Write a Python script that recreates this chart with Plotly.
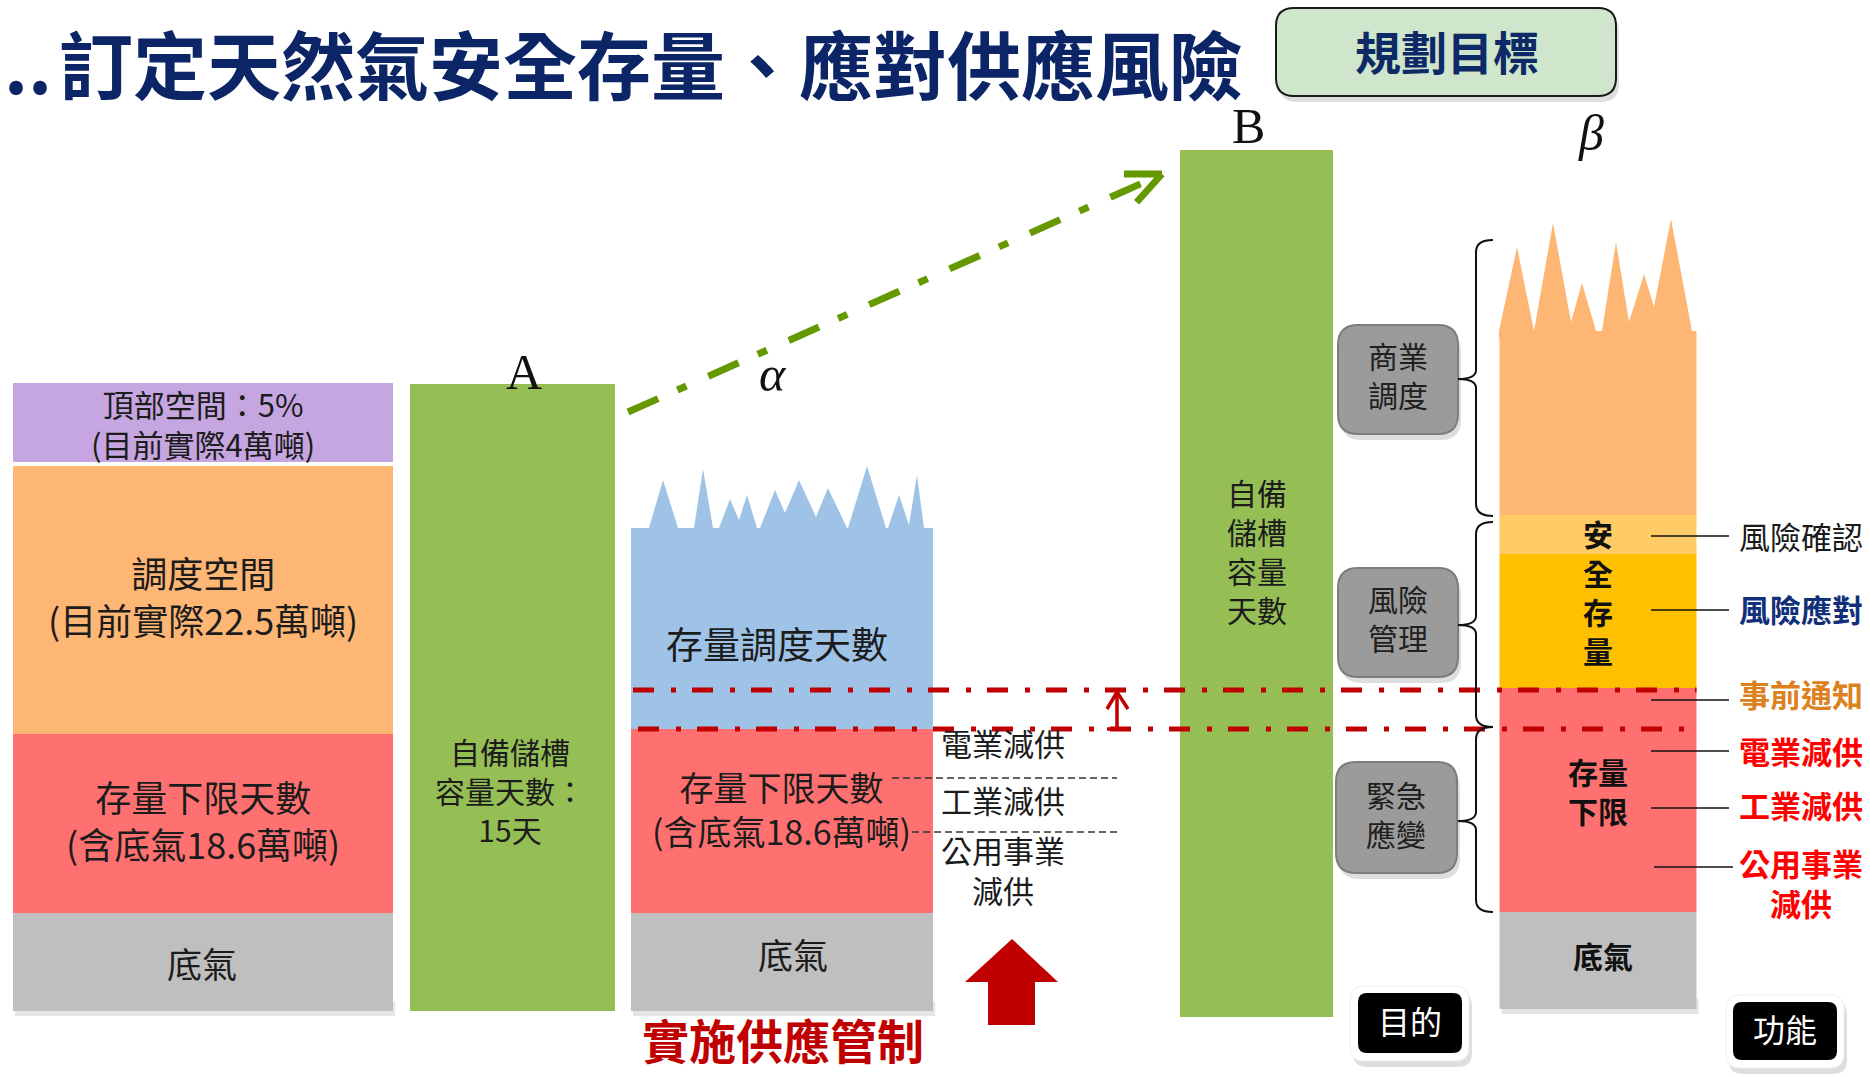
import math
import plotly.graph_objects as go

W, H = 1870, 1077
BASE = 1011          # pixel row of the common baseline -> data y = 0


def Y(p):
    """convert a measured pixel row into the chart's vertical units"""
    return BASE - p


# ---------------------------------------------------------------- data
# left column: present situation (heights above the baseline)
current_segments = ["底氣", "存量下限天數", "調度空間", "頂部空間"]
current_bottom = [0, 98, 277, 549]
current_top = [98, 277, 545, 628]

# column A: own storage-tank capacity
tankA_bottom = [0]
tankA_top = [627]

# column alpha
alpha_segments = ["底氣", "存量下限天數", "存量調度天數"]
alpha_bottom = [0, 98, 282]
alpha_top = [98, 282, 483]
alpha_ridge_x = [631, 649, 663, 678, 694, 703, 713, 719, 730, 739, 747, 757, 760, 775,
                 785, 799, 816, 828, 847, 848, 867, 886, 888, 899, 909, 917, 924, 932]
alpha_ridge_y = [483, 483, 531, 483, 483, 542, 483, 483, 512, 491, 516, 483, 483, 521,
                 498, 531, 494, 523, 483, 483, 545, 483, 483, 516, 486, 536, 483, 483]

# column B: target storage-tank capacity
tankB_bottom = [-6]
tankB_top = [861]

# column beta
beta_segments = ["底氣", "存量下限", "風險應對", "風險確認", "商業調度"]
beta_bottom = [2, 99, 323, 457, 496]
beta_top = [99, 323, 457, 496, 680]
beta_ridge_x = [1499, 1517, 1534, 1553, 1571, 1582, 1596, 1602, 1616, 1629, 1644, 1654, 1671, 1692, 1696]
beta_ridge_y = [680, 764, 680, 788, 689, 728, 680, 680, 769, 689, 737, 704, 792, 680, 680]

# threshold lines: 事前通知 level and 實施供應管制 level
threshold_levels = [321, 282]

# right-hand function labels
func_labels = ["風險確認", "風險應對", "事前通知", "電業減供", "工業減供"]
func_colors = ["#1a1a1a", "#12307a", "#dd8020", "#ff0000", "#ff0000"]
func_bold = [False, True, True, True, True]
func_rows = [538, 611, 696, 753, 807]
func_lines = [536, 610, 700, 751, 808, 867]

# alpha side labels
cut_labels = ["電業減供", "工業減供"]
cut_rows = [745, 802]

# ---------------------------------------------------------------- style
CJK = "Noto Sans CJK TC, Noto Sans CJK SC, sans-serif"
SERIF = "Liberation Serif, DejaVu Serif, serif"
TXT = "#1c1c1c"
GRAY = "#bfbfbf"
RED = "#ff7170"
ORANGE = "#fdb674"
PURPLE = "#c6a6e1"
GREEN = "#95bf55"
BLUE = "#9fc3e7"
LYELLOW = "#ffcb66"
YELLOW = "#ffc000"
DARKRED = "#c00000"
ARROWGREEN = "#669900"

col_center = {"cur": 203, "A": 512.5, "alpha": 782, "B": 1256.5, "beta": 1598}
col_width = {"cur": 380, "A": 205, "alpha": 302, "B": 153, "beta": 197}

fig = go.Figure()


def add_bar(cx, w, b, t, color):
    fig.add_trace(go.Bar(x=[cx], y=[t - b], base=[b], width=[w],
                         marker=dict(color=color, line=dict(width=0)),
                         hoverinfo="skip", showlegend=False))


# soft shadows under grey bases
for key, b in (("cur", current_bottom[0]), ("alpha", alpha_bottom[0]), ("beta", beta_bottom[0])):
    add_bar(col_center[key] + 2, col_width[key], b - 5, b + 10, "rgba(0,0,0,0.10)")

for b, t, c in zip(current_bottom, current_top, [GRAY, RED, ORANGE, PURPLE]):
    add_bar(col_center["cur"], col_width["cur"], b, t, c)
for b, t in zip(tankA_bottom, tankA_top):
    add_bar(col_center["A"], col_width["A"], b, t, GREEN)
for b, t, c in zip(alpha_bottom, alpha_top, [GRAY, RED, BLUE]):
    add_bar(col_center["alpha"], col_width["alpha"], b, t, c)
for b, t in zip(tankB_bottom, tankB_top):
    add_bar(col_center["B"], col_width["B"], b, t, GREEN)
for b, t, c in zip(beta_bottom, beta_top, [GRAY, RED, YELLOW, LYELLOW, ORANGE]):
    add_bar(col_center["beta"], col_width["beta"], b, t, c)


def add_ridge(xs, ys, color):
    px = list(xs) + [xs[-1], xs[0]]
    py = list(ys) + [ys[-1] - 8, ys[0] - 8]
    fig.add_trace(go.Scatter(x=px, y=py, mode="lines", fill="toself", fillcolor=color,
                             line=dict(width=0, color=color), hoverinfo="skip", showlegend=False))


add_ridge(alpha_ridge_x, alpha_ridge_y, BLUE)
add_ridge(beta_ridge_x, beta_ridge_y, ORANGE)


def add_line(xs, ys, color, width, dash="solid"):
    fig.add_trace(go.Scatter(x=xs, y=ys, mode="lines", line=dict(color=color, width=width, dash=dash),
                             hoverinfo="skip", showlegend=False))


# red dash-dot threshold lines
alpha_left = col_center["alpha"] - col_width["alpha"] / 2
beta_right = col_center["beta"] + col_width["beta"] / 2
add_line([alpha_left + 2, beta_right], [threshold_levels[0]] * 2, DARKRED, 5, "21px,17px,5px,16px")
add_line([alpha_left + 7, beta_right], [threshold_levels[1]] * 2, DARKRED, 5, "21px,17px,5px,16px")

# small red up-arrow between the two levels
ax = 1117
add_line([ax, ax], [threshold_levels[1], threshold_levels[0] - 2], DARKRED, 3.5)
add_line([ax - 10, ax, ax + 11], [threshold_levels[0] - 19, threshold_levels[0] - 2, threshold_levels[0] - 19], DARKRED, 3.5)
add_line([ax - 10, ax + 11], [threshold_levels[1]] * 2, DARKRED, 3.5)

# thin black dashed separators beside alpha
add_line([892, 1117], [Y(778)] * 2, "#333333", 1.5, "7px,4px")
add_line([912, 1117], [Y(832)] * 2, "#333333", 1.5, "7px,4px")

# green dash-dot arrow A -> B
gx0, gy0, gx1, gy1 = 628, Y(412), 1162, Y(174)
add_line([gx0, gx1 - 6], [gy0, gy1 - 3], ARROWGREEN, 7, "33px,21px,10px,24px")
ang = math.atan2(gy1 - gy0, gx1 - gx0)
for s in (1, -1):
    a = ang + math.pi + s * math.radians(24)
    add_line([gx1 + 38 * math.cos(a), gx1], [gy1 + 38 * math.sin(a), gy1], ARROWGREEN, 7)

# red block arrow
tipy, heady, boty = Y(939), Y(982), Y(1025)
fig.add_trace(go.Scatter(
    x=[1012, 1058, 1035, 1035, 988, 988, 965, 1012],
    y=[tipy, heady, heady, boty, boty, heady, heady, tipy],
    mode="lines", fill="toself", fillcolor=DARKRED, line=dict(width=0, color=DARKRED),
    hoverinfo="skip", showlegend=False))

# ---------------------------------------------------------------- shapes
shapes = []


def rrect(x0, y0, x1, y1, r):
    return (f"M {x0+r},{y0} L {x1-r},{y0} Q {x1},{y0} {x1},{y0+r} L {x1},{y1-r} "
            f"Q {x1},{y1} {x1-r},{y1} L {x0+r},{y1} Q {x0},{y1} {x0},{y1-r} "
            f"L {x0},{y0+r} Q {x0},{y0} {x0+r},{y0} Z")


def box(x0, p0, x1, p1, r, fill, line_color=None, lw=0, shadow=True):
    y0, y1 = Y(p1), Y(p0)
    if shadow:
        shapes.append(dict(type="path", path=rrect(x0 + 3, y0 - 6, x1 + 3, y1 - 6, r),
                           fillcolor="rgba(0,0,0,0.13)", line=dict(width=0), layer="above"))
    shapes.append(dict(type="path", path=rrect(x0, y0, x1, y1, r), fillcolor=fill,
                       line=dict(width=lw, color=line_color or fill), layer="above"))


# 規劃目標 header box
box(1276, 8, 1616, 96, 18, "#cfe5cc", "#1a1a1a", 2)
# grey function boxes
box(1338, 325, 1458, 434, 20, "#9b9b9b", "#7d7d7d", 2)
box(1338, 568, 1458, 677, 20, "#9b9b9b", "#7d7d7d", 2)
box(1336, 762, 1457, 873, 20, "#9b9b9b", "#7d7d7d", 2)
# 目的 / 功能 tags
box(1350, 986, 1469, 1061, 14, "#ffffff", "#eeeeee", 1)
box(1358, 993, 1462, 1053, 9, "#000000", shadow=False)
box(1726, 995, 1844, 1068, 14, "#ffffff", "#eeeeee", 1)
box(1733, 1002, 1837, 1060, 9, "#000000", shadow=False)

# curly braces
for top, mid, bot in ((240, 379, 516), (522, 625, 727), (727, 821, 912)):
    T, M, B = Y(top), Y(mid), Y(bot)
    X, XR, XL = 1476, 1493, 1458
    shapes.append(dict(type="path", line=dict(color="#111111", width=2),
                       path=(f"M {XR},{T} Q {X},{T} {X},{T-12} L {X},{M+9} Q {X},{M} {XL},{M} "
                             f"Q {X},{M} {X},{M-9} L {X},{B+12} Q {X},{B} {XR},{B}")))

# leader lines to function labels
for p in func_lines:
    x0 = 1651 if p < 860 else 1654
    x1 = 1729 if p < 860 else 1733
    shapes.append(dict(type="line", x0=x0, x1=x1, y0=Y(p), y1=Y(p),
                       line=dict(color="#111111", width=1.6)))

# ---------------------------------------------------------------- text
ann = []
TEXT_SHIFT = 3   # Plotly's middle anchor sits a little low for CJK glyphs


def label(x, p, text, size, color=TXT, bold=False, family=CJK, xanchor="center",
          italic=False, shift=TEXT_SHIFT, yanchor="middle"):
    t = text
    if bold:
        t = "<br>".join(f"<b>{s}</b>" for s in text.split("<br>"))
    if italic:
        t = f"<i>{t}</i>"
    ann.append(dict(x=x, y=Y(p - shift), text=t, showarrow=False, xanchor=xanchor,
                    yanchor=yanchor, align="center",
                    font=dict(family=family, size=size, color=color)))


# title
label(2, 64, "..", 74, "#0c2566", True, xanchor="left")
label(57, 64, "訂定天然氣安全存量、應對供應風險", 74, "#0c2566", True, xanchor="left")
label(1447, 53, "規劃目標", 46, "#0e2a66", True)

# letters
label(524, 372, "A", 50, "#111111", family=SERIF, shift=0)
label(1248, 126, "B", 50, "#111111", family=SERIF, shift=0)
label(773, 374, "α", 50, "#111111", family=SERIF, italic=True, shift=0)
label(1591, 133, "β", 50, "#111111", family=SERIF, italic=True, shift=0)

# left column
cx = col_center["cur"]
label(cx, 426, "頂部空間：5%<br>(目前實際4萬噸)", 31)
label(cx, 598, "調度空間<br>(目前實際22.5萬噸)", 36)
label(cx, 822, "存量下限天數<br>(含底氣18.6萬噸)", 36)
label(cx - 1, 965, "底氣", 35)

# column A
label(510, 793, "自備儲槽<br>容量天數：<br>15天", 30)

# alpha column
label(777, 646, "存量調度天數", 37)
label(781, 811, "存量下限天數<br>(含底氣18.6萬噸)", 34)
label(793, 956, "底氣", 35)
for t, p in zip(cut_labels, cut_rows):
    label(1003, p, t, 31)
label(1003, 872, "公用事業<br>減供", 31)
label(783, 1075, "實施供應管制", 47, DARKRED, True, yanchor="bottom", shift=0)

# column B
label(1257, 553, "自備<br>儲槽<br>容量<br>天數", 30)

# grey boxes
label(1398, 377, "商業<br>調度", 30, "#202020")
label(1398, 620, "風險<br>管理", 30, "#202020")
label(1396, 816, "緊急<br>應變", 30, "#202020")

# beta column
label(1598, 594, "安<br>全<br>存<br>量", 30, "#111111", True)
label(1598, 793, "存量<br>下限", 30, "#111111", True)
label(1603, 958, "底氣", 30, "#111111", True)

# function labels on the right
for t, c, b, p in zip(func_labels, func_colors, func_bold, func_rows):
    label(1737, p, t, 31, c, b, xanchor="left")
label(1801, 885, "公用事業<br>減供", 31, "#ff0000", True)

# tags
label(1410, 1023, "目的", 32, "#ffffff")
label(1785, 1031, "功能", 32, "#ffffff")

fig.update_layout(
    width=W, height=H, margin=dict(l=0, r=0, t=0, b=0),
    paper_bgcolor="white", plot_bgcolor="white",
    barmode="overlay", showlegend=False, hovermode=False,
    xaxis=dict(range=[0, W], visible=False, fixedrange=True),
    yaxis=dict(range=[BASE - H, BASE], visible=False, fixedrange=True),
    shapes=shapes, annotations=ann,
)

fig.write_html("out.html", config={"displayModeBar": False})
